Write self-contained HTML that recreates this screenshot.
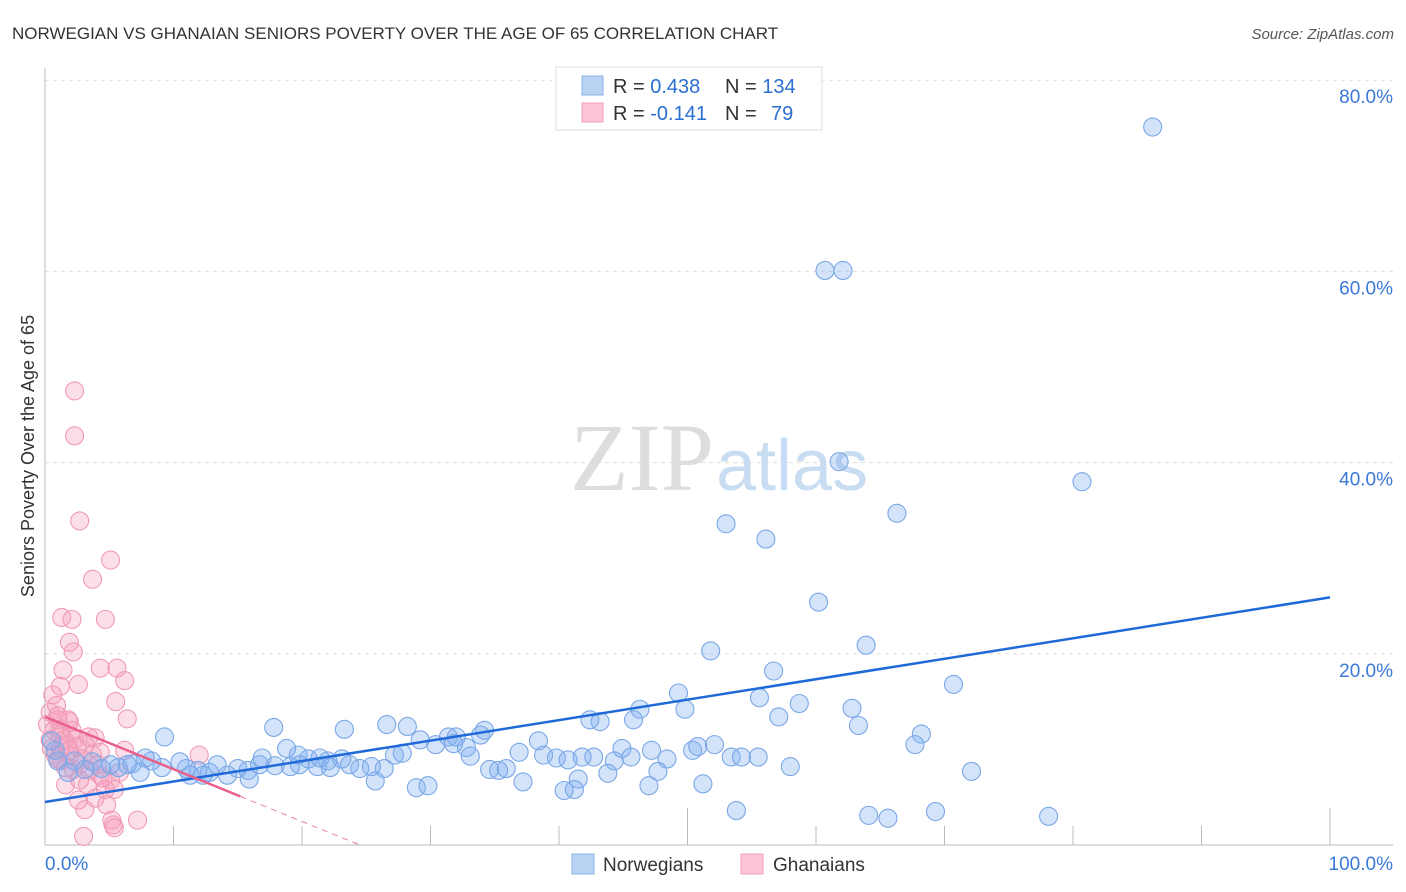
<!DOCTYPE html>
<html><head><meta charset="utf-8"><style>
body{margin:0;background:#fff;font-family:"Liberation Sans",sans-serif;}
svg{display:block}
</style></head><body>
<svg id="chart" width="1406" height="892">
<text x="12" y="39" font-size="17" fill="#333">NORWEGIAN VS GHANAIAN SENIORS POVERTY OVER THE AGE OF 65 CORRELATION CHART</text>
<text x="1394" y="39" font-size="15" fill="#555" font-style="italic" text-anchor="end">Source: ZipAtlas.com</text>
<text x="34" y="456" font-size="18" fill="#333" text-anchor="middle" transform="rotate(-90 34 456)">Seniors Poverty Over the Age of 65</text>
<g id="grid"></g>
<text x="714" y="490" font-size="96" fill="#ddd" text-anchor="end" font-family="Liberation Serif,serif">ZIP</text>
<text x="716" y="490" font-size="72" fill="#c8dcf2">atlas</text>
<g id="pts"></g>
<g id="lines"></g>
<g>
<rect x="556" y="67" width="266" height="63" fill="#fff" stroke="#ddd"/>
<rect x="582" y="76" width="21" height="19" fill="#b9d3f5" stroke="#8ab2e8"/>
<rect x="582" y="103" width="21" height="19" fill="#fbc5d5" stroke="#f0a0ba"/>
<text x="613" y="93" font-size="20" fill="#333">R = <tspan fill="#2a6fd0">0.438</tspan></text>
<text x="725" y="93" font-size="20" fill="#333">N = <tspan fill="#2a6fd0">134</tspan></text>
<text x="613" y="120" font-size="20" fill="#333">R = <tspan fill="#2a6fd0">-0.141</tspan></text>
<text x="725" y="120" font-size="20" fill="#333">N = <tspan fill="#2a6fd0" x="771">79</tspan></text>
</g>
<g>
<rect x="572" y="854" width="22" height="20" fill="#b9d3f5" stroke="#8ab2e8"/>
<text x="603" y="871" font-size="19" fill="#333">Norwegians</text>
<rect x="741" y="854" width="22" height="20" fill="#fbc5d5" stroke="#f0a0ba"/>
<text x="773" y="871" font-size="19" fill="#333">Ghanaians</text>
</g>
</svg>
<script>
const yTicks=[20,40,60,80];
const xTickLabels=["0.0%","100.0%"];
const blueX=[86.2,60.7,62.1,61.8,80.7,53,56.1,66.3,60.2,51.8,63.9,56.7,70.7,49.3,55.6,58.7,46.3,49.8,62.8,57.1,43.2,42.4,45.8,63.3,68.2,67.7,52.1,50.4,50.8,47.2,44.9,42.7,41.8,53.4,54.2,55.5,48.4,44.3,45.6,47.7,58,72.1,43.8,41.5,47,51.2,53.8,64.1,65.6,69.3,78.1,40.4,38.8,39.8,40.7,36.9,38.4,33.9,34.2,31.4,32,32.8,30.4,29.2,28.2,26.6,23.3,17.8,9.3,34.6,35.3,35.9,37.2,41.2,28.9,29.8,26.4,25.4,27.2,27.8,23.7,23.1,22,20.5,21.2,19.7,18.8,19.8,17.9,16.7,15.8,15,14.2,12.8,13.4,11.9,11,10.5,9.1,8.3,7.4,6.4,5.7,5.1,4.4,3.7,3.1,2.3,1.8,1,0.8,0.5,7.8,6.8,25.7,16.9,19.1,12.3,11.3,15.9,21.4,24.5,22.2,33.1,31.8];
const blueY=[75.1,60.1,60.1,40.1,38,33.6,32,34.7,25.4,20.3,20.9,18.2,16.8,15.9,15.4,14.8,14.2,14.2,14.3,13.4,12.9,13.1,13.1,12.5,11.6,10.5,10.5,9.9,10.3,9.9,10.1,9.2,9.2,9.2,9.2,9.2,9,8.8,9.2,7.7,8.2,7.7,7.5,6.9,6.2,6.4,3.6,3.1,2.8,3.5,3,5.7,9.4,9.1,8.9,9.7,10.9,11.5,12,11.3,11.3,10.2,10.5,11,12.4,12.6,12.1,12.3,11.3,7.9,7.8,8,6.6,5.8,6,6.2,8,8.2,9.4,9.6,8.4,9,8.8,9,8.2,9.4,10.1,8.4,8.3,8.4,7.8,8,7.3,7.6,8.4,7.8,8,8.7,8.1,8.8,7.6,8.4,8.1,8.4,8,8.7,7.9,8.8,7.6,8.8,9.9,10.9,9.1,8.5,6.7,9.1,8.2,7.3,7.3,6.9,9.1,8,8.1,9.3,10.6];
const pinkX=[2.3,2.3,2.7,5.1,3.7,4.7,1.3,2.1,1.9,2.2,5.6,4.3,1.4,2.6,6.2,1.2,5.5,6.4,0.6,0.9,1,1.2,1.8,1.9,2.3,3.1,3.9,0.4,0.5,1.2,1.7,0.8,1.3,1.9,2.7,3.5,4.3,5.1,5.8,4.7,3.3,2.6,3.1,3.9,4.8,5.4,5.3,5.2,5.4,7.2,3,1.6,12,6.2,1.2,0.2,0.7,1.5,2.1,2.5,1,2.9,3.7,4.3,2.2,4.1,1.6,2.7,4.5,0.4,1,3.4,1.9];
const pinkY=[47.5,42.8,33.9,29.8,27.8,23.6,23.8,23.6,21.2,20.2,18.5,18.5,18.3,16.8,17.2,16.6,15,13.2,15.7,14.6,13.1,12.1,13.1,12.9,11,10.5,11.2,11,10.1,10.1,10.5,9.4,8.8,9.4,8.4,7.8,7.3,6.8,7.6,5.8,6.3,4.7,3.7,4.9,4.2,5.8,2.1,2.6,1.8,2.6,0.9,6.3,9.4,9.9,11.5,12.6,12,11,12,10.3,9,9,9.4,9.7,7.9,8.4,8.1,6.8,7,13.9,13.5,11.3,9.9];
const blueTrend=[4.5,25.9];
const pinkTrend=[13.4,-0.547];
const NS="http://www.w3.org/2000/svg";
const sx=v=>45+v*12.85, sy=v=>845-v*9.56;
function mk(tag,attrs,parent){const e=document.createElementNS(NS,tag);for(const k in attrs)e.setAttribute(k,attrs[k]);parent.appendChild(e);return e;}
const grid=document.getElementById('grid');
yTicks.forEach(t=>{
  const l=mk('line',{x1:45,x2:1393,y1:sy(t),y2:sy(t),stroke:'#ddd','stroke-dasharray':'4 4'},grid);
  
  
  const tx=mk('text',{x:1393,y:sy(t)+23,'font-size':19,fill:'#3a78d8','text-anchor':'end'},grid);
  tx.textContent=t.toFixed(1)+'%';
  
  
});
const ax=mk('line',{x1:45,x2:45,y1:68,y2:845,stroke:'#bbb'},grid);


const bx=mk('line',{x1:45,x2:1393,y1:845,y2:845,stroke:'#bbb'},grid);


for(let i=1;i<=10;i++){
  const t=mk('line',{x1:sx(i*10),x2:sx(i*10),y1:(i%5==0?808:826),y2:845,stroke:'#bbb'},grid);
  
  
}
[[0,'start',45],[100,'end',1393]].forEach((d,i)=>{
  const tx=mk('text',{x:d[2],y:870,'font-size':19,fill:'#3a78d8','text-anchor':d[1]},grid);
  tx.textContent=xTickLabels[i];
  
  
});
const pts=document.getElementById('pts');
pinkX.forEach((x,i)=>{
  const c=mk('circle',{cx:sx(x),cy:sy(pinkY[i]),r:9,fill:'rgba(245,160,190,0.35)',stroke:'#f09ab6','stroke-width':1.1},pts);
  
  
});
blueX.forEach((x,i)=>{
  const c=mk('circle',{cx:sx(x),cy:sy(blueY[i]),r:9,fill:'rgba(130,175,240,0.35)',stroke:'#7aa7e6','stroke-width':1.1},pts);
  
  
});
const lines=document.getElementById('lines');
const bl=mk('line',{x1:sx(0),y1:sy(blueTrend[0]),x2:sx(100),y2:sy(blueTrend[1]),stroke:'#1f6ad8','stroke-width':2.5},lines);


const pf=x=>pinkTrend[0]+pinkTrend[1]*x;
const pl=mk('line',{x1:sx(0),y1:sy(pf(0)),x2:sx(15.2),y2:sy(pf(15.2)),stroke:'#e8608a','stroke-width':2.5},lines);


const pd=mk('line',{x1:sx(15.2),y1:sy(pf(15.2)),x2:sx(24.5),y2:sy(pf(24.5)),stroke:'#e8809e','stroke-width':1,'stroke-dasharray':'6 5'},lines);


</script>
</body></html>
